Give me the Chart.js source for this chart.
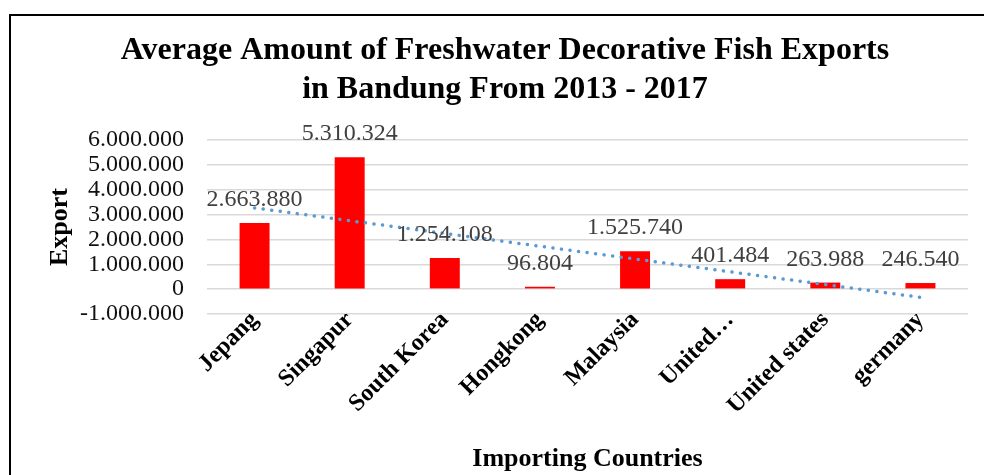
<!DOCTYPE html>
<html>
<head>
<meta charset="utf-8">
<title>Freshwater Decorative Fish Exports</title>
<script src="https://cdn.jsdelivr.net/npm/chart.js@4/dist/chart.umd.min.js"></script>
<style>
  body { margin: 0; background: #fff; overflow: hidden; }
  .frame { position: absolute; left: 9px; top: 14px; width: 1000px; height: 500px; border: 2px solid #000; }
  #exportChart { position: absolute; left: 0; top: 0; }
</style>
</head>
<body>
<div class="frame"></div>
<canvas id="exportChart" width="984" height="475"></canvas>
<script>
// Data
const countries = ['Jepang', 'Singapur', 'South Korea', 'Hongkong', 'Malaysia', 'United…', 'United states', 'germany'];
const exportValues = [2663880, 5310324, 1254108, 96804, 1525740, 401484, 263988, 246540];
// Linear trendline, end points
const trendValues = [3270000, null, null, null, null, null, null, -330000];
const yTicks = [-1000000, 0, 1000000, 2000000, 3000000, 4000000, 5000000, 6000000];

// 1234567 -> "1.234.567"
const formatDots = (v) => {
  const sign = v < 0 ? '-' : '';
  return sign + Math.abs(Math.round(v)).toString().replace(/\B(?=(\d{3})+(?!\d))/g, '.');
};

Chart.defaults.font.family = "'Liberation Serif', 'Times New Roman', serif";
Chart.defaults.color = '#1a1a1a';

// Value labels above each bar
const barLabels = {
  id: 'barLabels',
  afterDatasetsDraw(chart) {
    const ctx = chart.ctx;
    const meta = chart.getDatasetMeta(0);
    ctx.save();
    ctx.font = "24px 'Liberation Serif', 'Times New Roman', serif";
    ctx.fillStyle = '#404040';
    ctx.textAlign = 'center';
    ctx.textBaseline = 'alphabetic';
    meta.data.forEach((bar, i) => {
      ctx.fillText(formatDots(exportValues[i]), bar.x, bar.y - 17);
    });
    ctx.restore();
  }
};

new Chart(document.getElementById('exportChart').getContext('2d'), {
  data: {
    labels: countries,
    datasets: [
      {
        type: 'bar',
        label: 'Export',
        data: exportValues,
        backgroundColor: '#ff0000',
        barPercentage: 0.315,
        categoryPercentage: 1,
        order: 1,
      },
      {
        type: 'line',
        label: 'Linear (Export)',
        data: trendValues,
        spanGaps: true,
        borderColor: '#5b9bd5',
        borderWidth: 3.5,
        borderDash: [0.1, 8.5],
        borderCapStyle: 'round',
        pointRadius: 0,
        tension: 0,
        order: 0,
      },
    ]
  },
  options: {
    responsive: false,
    animation: false,
    devicePixelRatio: 1,
    layout: { padding: { left: 42, right: 16, top: 10, bottom: 0 } },
    plugins: {
      legend: { display: false },
      tooltip: { enabled: false },
      title: {
        display: true,
        text: ['Average Amount of Freshwater Decorative Fish Exports', 'in Bandung From 2013 - 2017'],
        color: '#000',
        font: { size: 32, weight: 'bold', lineHeight: 1.22 },
        padding: { top: 21, bottom: 31 },
      },
    },
    scales: {
      x: {
        offset: true,
        grid: { display: false },
        border: { display: false },
        ticks: {
          color: '#000',
          font: { size: 24, weight: 'bold' },
          minRotation: 45,
          maxRotation: 45,
          autoSkip: false,
          padding: -16,
        },
        title: {
          display: true,
          text: 'Importing Countries',
          color: '#000',
          font: { size: 26, weight: 'bold' },
          padding: { top: 0, bottom: 0 },
        },
        afterFit(scale) { scale.height = 161; },
      },
      y: {
        min: -1000000,
        max: 6000000,
        afterBuildTicks(scale) { scale.ticks = yTicks.map(v => ({ value: v })); },
        grid: { color: '#d9d9d9', lineWidth: 1.5, drawTicks: false },
        border: { display: false },
        ticks: {
          color: '#111',
          font: { size: 24 },
          padding: 23,
          autoSkip: false,
          callback: (v) => formatDots(v),
        },
        title: {
          display: true,
          text: 'Export',
          color: '#000',
          font: { size: 26, weight: 'bold' },
          padding: { top: 3, bottom: 0 },
        },
        afterFit(scale) { scale.width = 165; },
      }
    }
  },
  plugins: [barLabels]
});
</script>
</body>
</html>
